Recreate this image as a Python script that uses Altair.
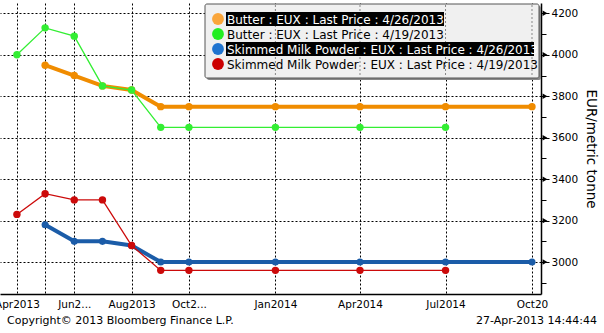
import altair as alt
import pandas as pd

# ---------------- data ----------------
months = ["2013-04-01", "2013-05-01", "2013-06-01", "2013-07-01", "2013-08-01",
          "2013-09-01", "2013-10-01", "2014-01-01", "2014-04-01", "2014-07-01",
          "2014-10-01"]
series_names = [
    "Butter : EUX : Last Price : 4/26/2013",
    "Butter : EUX : Last Price : 4/19/2013",
    "Skimmed Milk Powder : EUX : Last Price : 4/26/2013",
    "Skimmed Milk Powder : EUX : Last Price : 4/19/2013",
]
butter_0426 = [None, 3950, 3900, 3850, 3830, 3750, 3750, 3750, 3750, 3750, 3750]
butter_0419 = [4000, 4130, 4090, 3850, 3830, 3650, 3650, 3650, 3650, 3650, None]
smp_0426 = [None, 3180, 3100, 3100, 3080, 3000, 3000, 3000, 3000, 3000, 3000]
smp_0419 = [3230, 3330, 3300, 3300, 3080, 2960, 2960, 2960, 2960, 2960, None]
series_values = [butter_0426, butter_0419, smp_0426, smp_0419]

grid_months = ["2013-04-01", "2013-05-01", "2013-06-01", "2013-08-01", "2013-10-01",
               "2014-01-01", "2014-04-01", "2014-07-01", "2014-10-01"]
grid_labels = ["Apr2013", "", "Jun2...", "Aug2013", "Oct2...", "Jan2014", "Apr2014",
               "Jul2014", "Oct20"]
legend_grid_months = ["2014-01-01", "2014-04-01", "2014-07-01", "2014-10-01"]
y_ticks = [2900, 3000, 3100, 3200, 3300, 3400, 3500, 3600, 3700, 3800, 3900, 4000, 4100, 4200]
y_major = [3000, 3200, 3400, 3600, 3800, 4000, 4200]
y_title = "EUR/metric tonne"
copyright_text = "Copyright\u00a9 2013 Bloomberg Finance L.P."
stamp_text = "27-Apr-2013 14:44:44"

# ---------------- styles ----------------
line_colors = ["#F08C00", "#33EE33", "#1B5CA8", "#CC0A0A"]
legend_colors = ["#F9A53B", "#22EE22", "#1F74D0", "#CC0000"]
line_widths = [4, 1.3, 4, 1.3]
point_sizes = [55, 55, 50, 55]
draw_order = [0, 2, 1, 3]
highlight = [True, False, True, False]
FONT = "DejaVu Sans"

W, H = 541, 291


def ms(s):
    return int(pd.Timestamp(s, tz="UTC").value // 10**6)


x_domain = [ms("2013-03-14"), ms("2014-10-10T14:00")]
label_map = "{" + ",".join(
    "'%s':'%s'" % (m[:7], l) for m, l in zip(grid_months, grid_labels)) + "}"

x_axis = alt.Axis(
    values=[ms(m) for m in grid_months],
    labelExpr=label_map + "[utcFormat(datum.value, '%Y-%m')]",
    title=None, grid=True, gridColor="black", gridDash=[2, 2], gridWidth=1,
    ticks=False, domainColor="black", domainWidth=1.5,
    labelFont=FONT, labelFontSize=10.5, labelColor="black", labelPadding=5,
    labelOverlap=False, labelFlush=False, labelBound=False,
)
y_axis = alt.Axis(
    orient="right", values=y_ticks, format="d",
    labelExpr="datum.value % 200 == 0 ? datum.label : ''",
    title=y_title, titleFont=FONT, titleFontSize=13.5, titleFontWeight="normal",
    titleColor="black", titlePadding=6,
    grid=True, gridColor="black", gridDash=[2, 2], gridWidth=1,
    gridOpacity={"condition": {"test": "datum.value % 200 == 0", "value": 1}, "value": 0},
    tickSize={"condition": {"test": "datum.value % 200 == 0", "value": 8}, "value": 5},
    tickColor="black", domainColor="black", domainWidth=1.5,
    labelFont=FONT, labelFontSize=10.5, labelColor="black", labelPadding=2,
    labelOverlap=False, labelFlush=False,
)

x_enc = alt.X("date:T", scale=alt.Scale(type="utc", domain=x_domain), axis=x_axis)
y_enc = alt.Y("value:Q", scale=alt.Scale(domain=[2846, 4250], nice=False, zero=False),
              axis=y_axis)

layers = []
for i in draw_order:
    df = pd.DataFrame({"date": [ms(m) for m in months], "value": series_values[i]}).dropna()
    layers.append(
        alt.Chart(df).mark_line(
            color=line_colors[i], strokeWidth=line_widths[i],
            point=alt.OverlayMarkDef(filled=True, size=point_sizes[i],
                                     color=line_colors[i], opacity=1),
        ).encode(x=x_enc, y=y_enc)
    )

# arrow heads on major ticks
arrows = alt.Chart(pd.DataFrame({"value": y_major})).mark_point(
    shape="triangle-right", filled=True, color="black", size=30, opacity=1
).encode(x=alt.value(W + 4), y=y_enc)

# legend
one = pd.DataFrame({"a": [0]})
box_shadow = alt.Chart(one).mark_rect(fill="#888888", cornerRadius=2).encode(
    x=alt.value(207), x2=alt.value(541), y=alt.value(3), y2=alt.value(77))
box = alt.Chart(one).mark_rect(fill="#F0F0F0", stroke="#555555", strokeWidth=1,
                               cornerRadius=2).encode(
    x=alt.value(205), x2=alt.value(539), y=alt.value(1), y2=alt.value(75))
legend_rules = alt.Chart(pd.DataFrame({"date": [ms(m) for m in legend_grid_months]})).mark_rule(
    color="#888888", strokeDash=[2, 2], strokeWidth=1).encode(
    x=alt.X("date:T", scale=alt.Scale(type="utc", domain=x_domain), axis=x_axis),
    y=alt.value(2), y2=alt.value(74))

row_y = [16, 31, 46, 61]
hl_right = [444, None, 534, None]
legend_layers = [box_shadow, box, legend_rules]
for i, name in enumerate(series_names):
    if highlight[i]:
        legend_layers.append(alt.Chart(one).mark_rect(fill="black").encode(
            x=alt.value(226), x2=alt.value(hl_right[i]),
            y=alt.value(row_y[i] - 7), y2=alt.value(row_y[i] + 7)))
    legend_layers.append(alt.Chart(one).mark_point(
        filled=True, shape="circle", size=140, color=legend_colors[i], opacity=1).encode(
        x=alt.value(218), y=alt.value(row_y[i])))
    legend_layers.append(alt.Chart(pd.DataFrame({"t": [name]})).mark_text(
        align="left", baseline="middle", font=FONT, fontSize=12,
        color="white" if highlight[i] else "black").encode(
        x=alt.value(227), y=alt.value(row_y[i] + 0.5), text="t:N"))

footer = [
    alt.Chart(pd.DataFrame({"t": [copyright_text]})).mark_text(
        align="left", baseline="middle", font=FONT, fontSize=11, color="black").encode(
        x=alt.value(7), y=alt.value(318), text="t:N"),
    alt.Chart(pd.DataFrame({"t": [stamp_text]})).mark_text(
        align="right", baseline="middle", font=FONT, fontSize=11, color="black").encode(
        x=alt.value(597), y=alt.value(318), text="t:N"),
]

chart = alt.layer(*layers, arrows, *legend_layers, *footer).properties(
    width=W, height=H,
    padding={"left": 0, "top": 3, "right": 63, "bottom": 39},
    autosize=alt.AutoSizeParams(type="none"),
    background="white",
).configure_view(stroke=None)

chart.save("out.html", embed_options={"renderer": "svg", "actions": False})
